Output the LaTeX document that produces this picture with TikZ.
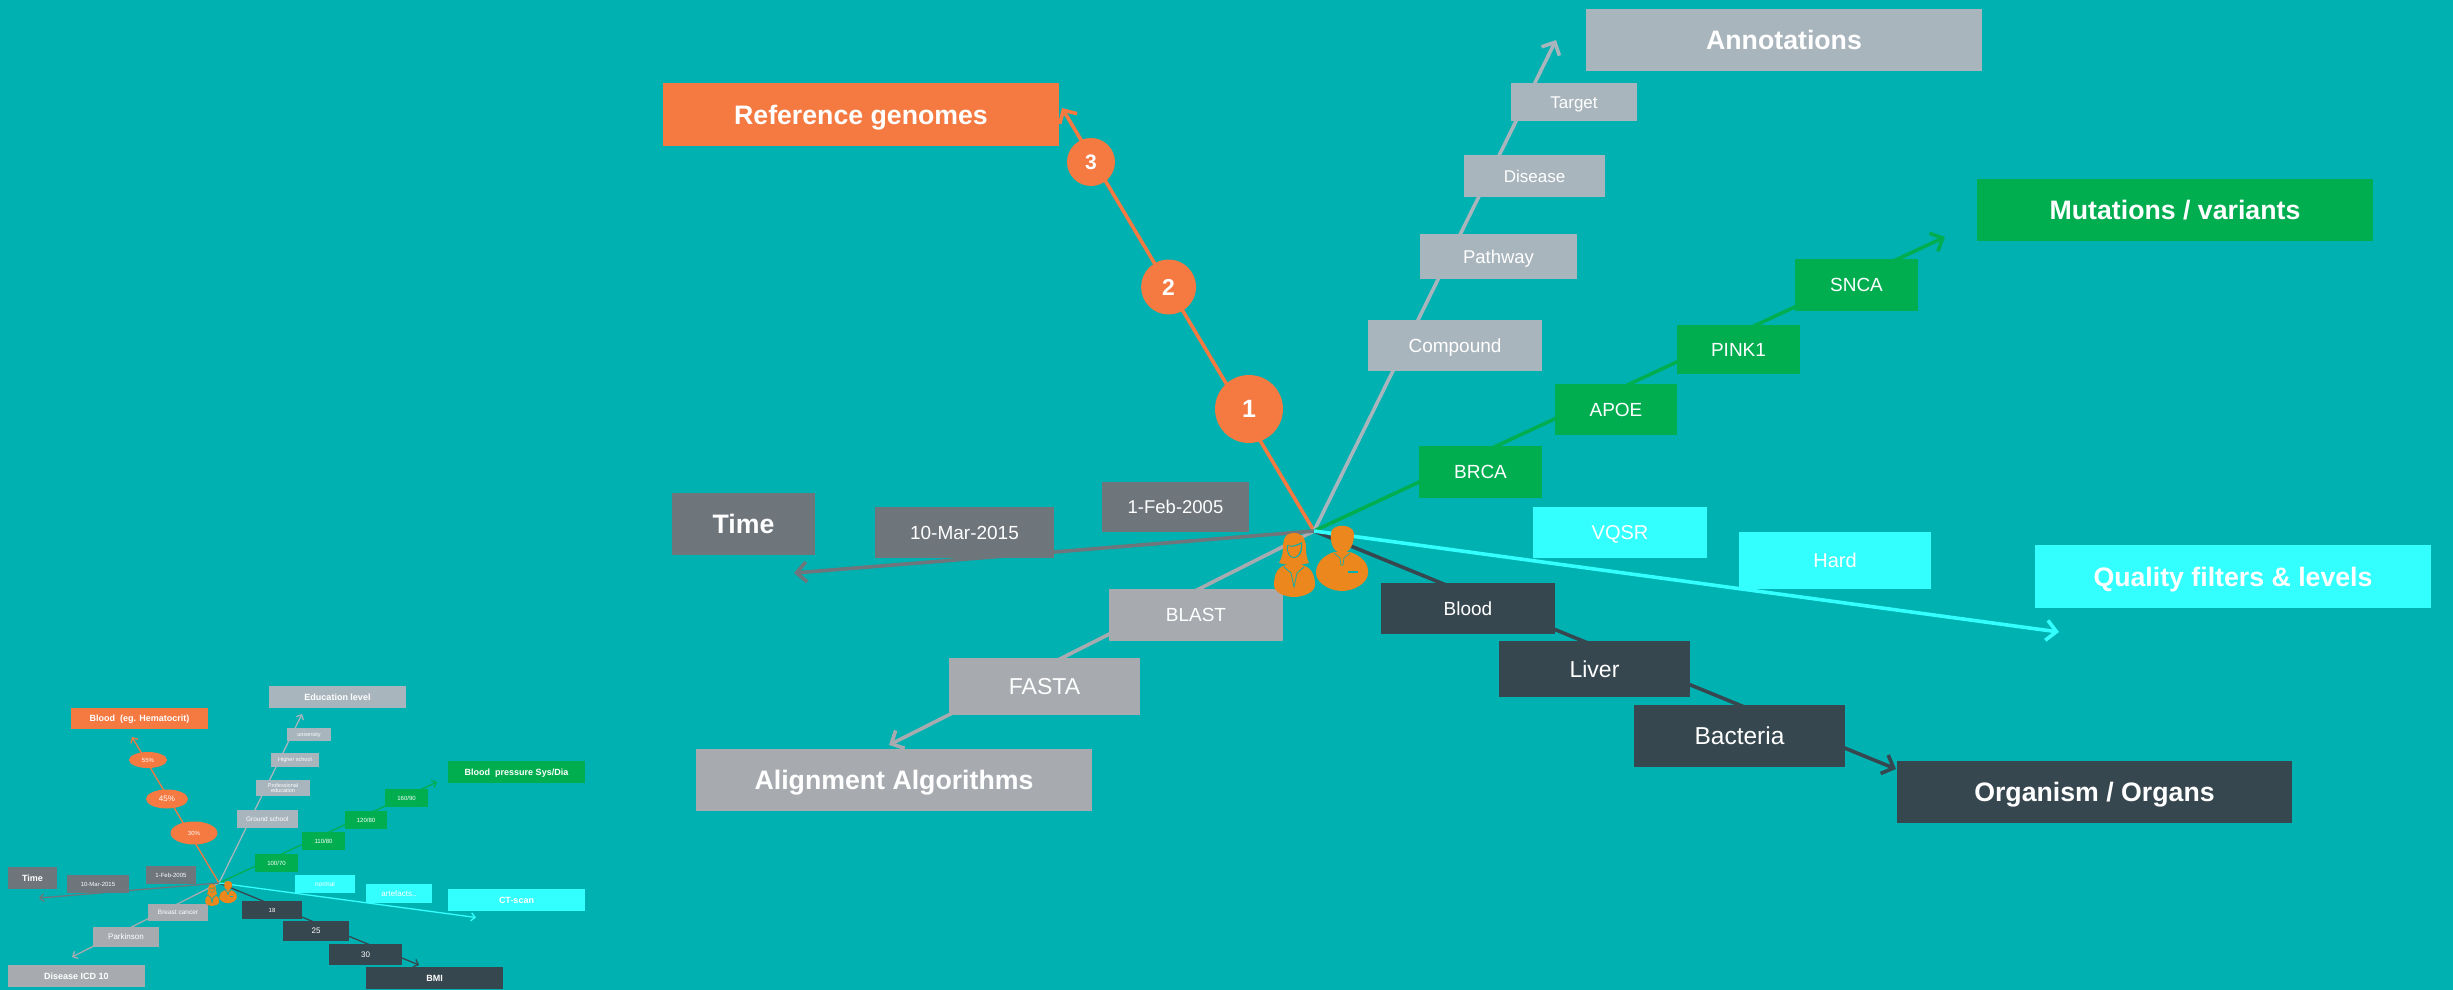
\documentclass[tikz,border=0pt]{standalone}
\usepackage{fontspec}
\setmainfont{Liberation Sans}
\usetikzlibrary{arrows.meta,shapes.geometric}
\definecolor{bgc}{HTML}{00B1B1}
\definecolor{orangec}{HTML}{F47A42}
\definecolor{greenc}{HTML}{00AE50}
\definecolor{cyanc}{HTML}{33FFFF}
\definecolor{darkc}{HTML}{37474F}
\definecolor{timec}{HTML}{6E757B}
\definecolor{graya}{HTML}{A7ABB0}
\definecolor{grayb}{HTML}{A9B5BD}
\definecolor{iconc}{HTML}{EB871C}
\newcommand{\fs}[1]{\fontsize{#1}{#1}\selectfont}
\newcommand{\bx}[7]{%
  \pgfmathsetmacro{\cxx}{(#2+#4)/2}\pgfmathsetmacro{\cyy}{(#3+#5)/2}%
  \pgfmathsetmacro{\www}{#4-#2}\pgfmathsetmacro{\hhh}{#5-#3}%
  \node[boxbase,#6,minimum width=\www pt,minimum height=\hhh pt] (#1) at (\cxx,\cyy) {\raisebox{0pt}[.72em][0pt]{#7}};}
\tikzset{
  x=1pt,y=-1pt,
  boxbase/.style={inner sep=0pt,outer sep=0pt,text=white,align=center},
  big/.style={font=\bfseries\fs{26.7}},
  mid/.style={font=\fs{19}},
  midb/.style={font=\fs{23}},
  low/.style={font=\fs{17}},
  sbig/.style={font=\bfseries\fs{9}},
  smid/.style={font=\fs{6.5}},
  smidb/.style={font=\fs{8}},
  conn/.style={line width=3.6pt,-{Straight Barb[length=10pt,width=20pt,line width=3.6pt]}},
  sconn/.style={line width=1.3pt,-{Straight Barb[length=4pt,width=8pt,line width=1.3pt]}},
  orn/.style={fill=orangec},
  grn/.style={fill=greenc},
  cyn/.style={fill=cyanc},
  drk/.style={fill=darkc},
  tim/.style={fill=timec},
  gra/.style={fill=graya},
  grb/.style={fill=grayb},
  circ/.style={circle,fill=orangec,inner sep=0pt,outer sep=0pt,text=white},
  ell/.style={ellipse,fill=orangec,inner sep=0pt,outer sep=0pt,text=white},
  personman/.pic={
    \fill[iconc] (-11,-24) .. controls (-12,-35) and (12,-35) .. (12,-24) .. controls (12,-14) and (8,-5) .. (0,-5) .. controls (-8,-5) and (-12,-14) .. (-11,-24) -- cycle;
    \fill[iconc] (-8,-6) .. controls (-20,-2) and (-26,6) .. (-26,15) .. controls (-26,25) and (-12,33) .. (0,33) .. controls (12,33) and (26,25) .. (26,15) .. controls (27,6) and (20,-2) .. (8,-6) -- cycle;
    \draw[bgc,line width=.6pt,line cap=round] (-8,-5) -- (-2,0) -- (-1,7) -- (1,7) -- (2,0) -- (8,-5);
    \draw[bgc,line width=1.2pt] (6,14) -- (16,14);
  },
  personwoman/.pic={
    \fill[iconc] (0,-32) .. controls (-11,-32) and (-11,-22) .. (-11,-17) .. controls (-11,-10) and (-13,-6) .. (-15,-2) -- (-6,0) -- (6,0) -- (15,-2) .. controls (13,-6) and (12,-10) .. (12,-17) .. controls (12,-22) and (11,-32) .. (0,-32) -- cycle;
    \fill[iconc] (-8,0) .. controls (-16,2) and (-20,8) .. (-20,20) .. controls (-20,27) and (-10,32) .. (0,32) .. controls (10,32) and (21,27) .. (21,20) .. controls (21,8) and (16,2) .. (8,0) -- cycle;
    \fill[bgc] (-7,-20) .. controls (-3,-18) and (3,-20) .. (8,-23) .. controls (9,-12) and (5,-7) .. (0,-7) .. controls (-5,-7) and (-8,-13) .. (-7,-20) -- cycle;
    \fill[iconc] (-6,-19) .. controls (-3,-17) and (3,-19) .. (7,-21) .. controls (7,-13) and (4,-8) .. (0,-8) .. controls (-4,-8) and (-7,-13) .. (-6,-19) -- cycle;
    \draw[bgc,line width=.7pt,line cap=round] (-10,2) -- (-3,8) -- (0,22) -- (3,8) -- (10,2);
  },
}
\begin{document}
\begin{tikzpicture}
\useasboundingbox (0,0) rectangle (2453,990);
\fill[bgc] (0,0) rectangle (2453,990);
% ---------- small diagram ----------
\coordinate (shub) at (219,883);
\coordinate (stipor) at (132,737);
\coordinate (stipedu) at (302,714);
\coordinate (stipgr) at (437,782);
\coordinate (stipcy) at (476,917.5);
\coordinate (stipdk) at (419,965);
\coordinate (stipdis) at (72,957);
\coordinate (stiptm) at (39,898);
\draw[sconn,orangec] (shub) -- (stipor);
\draw[sconn,grayb] (shub) -- (stipedu);
\draw[sconn,greenc] (shub) -- (stipgr);
\draw[sconn,graya] (shub) -- (stipdis);
\draw[sconn,darkc] (shub) -- (stipdk);
\draw[sconn,timec] (shub) -- (stiptm);
\draw[sconn,cyanc] (shub) -- (stipcy);
\bx{sblood}{71}{708}{208}{729}{orn,sbig}{Blood\ \ (eg. Hematocrit)}
\bx{sedu}{269}{686}{406}{708}{grb,sbig}{Education level}
\bx{suni}{287}{728}{331}{741}{grb,font=\fs{5.5}}{university}
\bx{shigh}{271}{753}{319}{767}{grb,font=\fs{5.5}}{Higher school}
\node[boxbase,grb,font=\fs{5.5},minimum width=54pt,minimum height=16pt] (sprof) at (283,788) {Professional\\[-0.5pt]education};
\bx{sgrnd}{237}{810}{297.5}{828}{grb,smid}{Ground school}
\bx{sbp}{448}{761}{585}{783}{grn,sbig}{Blood\ \ pressure Sys/Dia}
\bx{sb160}{385}{789}{428}{807}{grn,font=\fs{6}}{160/90}
\bx{sb120}{345}{811}{387}{829}{grn,font=\fs{6}}{120/80}
\bx{sb110}{302}{832}{345}{850}{grn,font=\fs{6}}{110/80}
\bx{sb100}{255}{854}{298}{872}{grn,font=\fs{6}}{100/70}
\bx{snorm}{295}{875}{355}{893}{cyn,smid}{normal}
\bx{sart}{366}{884}{432}{903}{cyn,smidb}{artefacts..}
\bx{sct}{448}{889}{585}{911}{cyn,sbig}{CT-scan}
\bx{s18}{242}{901}{302}{919}{drk,font=\fs{6}}{18}
\bx{s25}{283}{921}{349}{941}{drk,smidb}{25}
\bx{s30}{329}{944}{402}{965}{drk,smidb}{30}
\bx{sbmi}{366}{967}{503}{989}{drk,sbig}{BMI}
\bx{sbc}{148}{904}{208}{921}{gra,smid}{Breast cancer}
\bx{spark}{93}{927}{159}{947}{gra,smidb}{Parkinson}
\bx{sicd}{8}{965}{145}{987}{gra,sbig}{Disease ICD 10}
\bx{stime}{8}{867}{57}{889}{tim,sbig}{Time}
\bx{smar}{67}{875}{129}{893}{tim,font=\fs{6}}{10-Mar-2015}
\bx{sfeb}{146}{866}{196}{884}{tim,font=\fs{6}}{1-Feb-2005}
\node[ell,minimum width=38pt,minimum height=16pt,font=\fs{6}] (se55) at (148,760) {55\%};
\node[ell,minimum width=42pt,minimum height=19pt,font=\fs{8}] (se45) at (167,799) {45\%};
\node[ell,minimum width=47pt,minimum height=23pt,font=\fs{6}] (se30) at (194,833) {30\%};
\pic[scale=0.34] at (212,895) {personwoman};
\pic[scale=0.34] at (228,892) {personman};
% ---------- large diagram ----------
\coordinate (hub) at (1314,531);
\coordinate (tipor) at (1062,108);
\coordinate (tipann) at (1556,40);
\coordinate (tipgr) at (1945,237);
\coordinate (tipcy) at (2059,632);
\coordinate (tipdk) at (1896,769);
\coordinate (tipal) at (889,745);
\coordinate (tiptm) at (794,573);
\draw[conn,orangec] (hub) -- (tipor);
\draw[conn,grayb] (hub) -- (tipann);
\draw[conn,greenc] (hub) -- (tipgr);
\draw[conn,graya] (hub) -- (tipal);
\draw[conn,timec] (hub) -- (tiptm);
\draw[conn,darkc] (hub) -- (tipdk);
\draw[conn,cyanc] (hub) -- (tipcy);
\bx{refg}{663}{83}{1059}{146}{orn,big}{Reference genomes}
\bx{annot}{1586}{9}{1982}{71}{grb,big}{Annotations}
\bx{target}{1511}{83}{1637}{121}{grb,low}{Target}
\bx{disease}{1464}{155}{1605}{197}{grb,low}{Disease}
\bx{pathway}{1420}{234}{1577}{279}{grb,font=\fs{18.5}}{Pathway}
\bx{compound}{1368}{320}{1542}{371}{grb,mid}{Compound}
\bx{mutat}{1977}{179}{2373}{241}{grn,big}{Mutations / variants}
\bx{snca}{1795}{259}{1918}{311}{grn,mid}{SNCA}
\bx{pink}{1677}{325}{1800}{374}{grn,mid}{PINK1}
\bx{apoe}{1555}{384}{1677}{435}{grn,mid}{APOE}
\bx{brca}{1419}{446}{1542}{498}{grn,mid}{BRCA}
\bx{vqsr}{1533}{507}{1707}{558}{cyn,font=\fs{20}}{VQSR}
\bx{hard}{1739}{532}{1931}{589}{cyn,font=\fs{20}}{Hard}
\bx{quality}{2035}{545}{2431}{608}{cyn,big}{Quality filters \& levels}
\bx{blood}{1381}{583}{1555}{634}{drk,mid}{Blood}
\bx{liver}{1499}{641}{1690}{697}{drk,midb}{Liver}
\bx{bact}{1634}{705}{1845}{767}{drk,font=\fs{24.5}}{Bacteria}
\bx{organ}{1897}{761}{2292}{823}{drk,big}{Organism / Organs}
\bx{blast}{1109}{589}{1283}{641}{gra,mid}{BLAST}
\bx{fasta}{949}{658}{1140}{715}{gra,midb}{FASTA}
\bx{align}{696}{749}{1092}{811}{gra,big}{Alignment Algorithms}
\bx{timen}{672}{493}{815}{555}{tim,big}{Time}
\bx{mar}{875}{507}{1054}{558}{tim,mid}{10-Mar-2015}
\bx{feb}{1102}{482}{1249}{532}{tim,font=\fs{18.5}}{1-Feb-2005}
\node[circ,minimum size=48pt,font=\bfseries\fs{21}] (c3) at (1091,162) {3};
\node[circ,minimum size=55pt,font=\bfseries\fs{23}] (c2) at (1168.6,287) {2};
\node[circ,minimum size=68pt,font=\bfseries\fs{25}] (c1) at (1249,409) {1};
\pic at (1294,565) {personwoman};
\pic at (1342,558) {personman};
\end{tikzpicture}
\end{document}
